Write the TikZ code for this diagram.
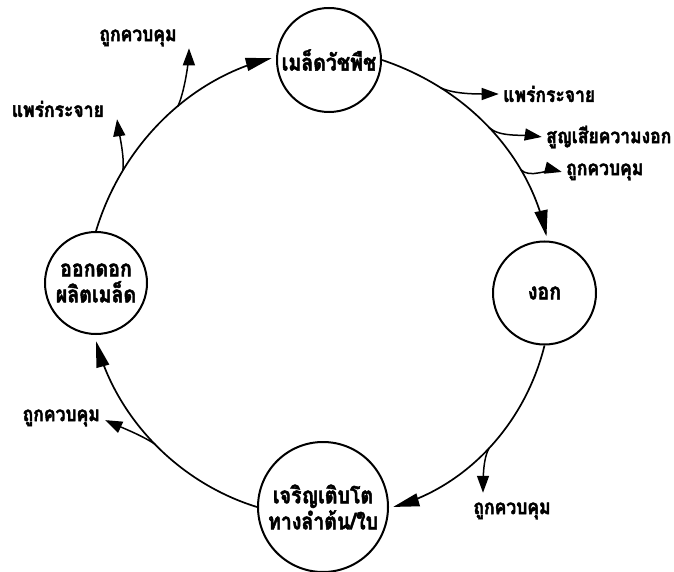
\documentclass[tikz,border=0pt]{standalone}
\usepackage{fontspec}
\newfontfamily\thaifont[Script=Thai, FakeStretch=0.85, BoldFeatures={FakeBold=2}]{Loma}
\usetikzlibrary{arrows.meta, calc, decorations.markings}

\begin{document}
\begin{tikzpicture}[x=1pt, y=-1pt,
  stage/.style={circle, draw, line width=2pt, inner sep=0pt, align=center,
    font=\thaifont\bfseries\fontsize{23}{26}\selectfont},
  cycleline/.style={line width=1.7pt, shorten >=3pt,
    postaction={decorate, decoration={markings,
      mark=at position 0.999 with {\arrow{Triangle[length=26pt,width=13pt]}}}}},
  branch/.style={line width=1.5pt, shorten >=3pt,
    postaction={decorate, decoration={markings,
      mark=at position 0.995 with {\arrow{Triangle[length=17pt,width=12pt]}}}}},
  lab/.style={inner sep=0pt, font=\thaifont\bfseries\fontsize{20.6}{22}\selectfont}]

\useasboundingbox (0,0) rectangle (674,572);

% life-cycle stages
\node[stage, minimum size=104pt] (seed)   at (329,60)    {เมล็ดวัชพืช};
\node[stage, minimum size=103pt] (germ)   at (544.5,293) {งอก};
\node[stage, minimum size=130pt] (grow)   at (323,507)   {เจริญเติบโต\\ทางลำต้น/ใบ};
\node[stage, minimum size=102pt] (flower) at (96,283)    {ออกดอก\\ผลิตเมล็ด};

% side outcomes
\node[lab, anchor=west] (r1) at (503,94)  {แพร่กระจาย};
\node[lab, anchor=west] (r2) at (546,137) {สูญเสียความงอก};
\node[lab, anchor=west] (r3) at (566,172) {ถูกควบคุม};
\node[lab]              (b1) at (512,511) {ถูกควบคุม};
\node[lab, anchor=east] (w1) at (100,418) {ถูกควบคุม};
\node[lab, anchor=east] (w2) at (104,109) {แพร่กระจาย};
\node[lab]              (t1) at (138,38)  {ถูกควบคุม};

% tips of the side arrows
\coordinate (e1) at (499,94);
\coordinate (e2) at (542,137);
\coordinate (e3) at (562,172);
\coordinate (e4) at (483,493);
\coordinate (e5) at (105,420);
\coordinate (e6) at (117,119);
\coordinate (e7) at (189,48);

% main cycle
\draw[cycleline] (seed.east) .. controls (466,88) and (529,154) .. ($(germ.north)+(2,-4)$)
  coordinate[pos=0.25] (a1) coordinate[pos=0.5] (a2) coordinate[pos=0.71] (a3);
\draw[cycleline] (germ.south) .. controls (525,424) and (467,486) .. ($(grow.east)+(4,0)$)
  coordinate[pos=0.5] (a4);
\draw[cycleline] (grow.west) .. controls (179,483) and (117,419) .. ($(flower.south)+(0,6)$)
  coordinate[pos=0.5] (a5);
\draw[cycleline] (flower.north) .. controls (122,145) and (189,79) .. ($(seed.west)+(-4,-2)$)
  coordinate[pos=0.25] (a6) coordinate[pos=0.58] (a7);

% branches off the cycle
\draw[branch] (a1) .. controls +(15,7) and +(-20,0) .. (e1);
\draw[branch] (a2) .. controls +(12,10) and +(-20,-3) .. (e2);
\draw[branch] (a3) .. controls +(10,10) and +(-15,-4) .. (e3);
\draw[branch] (a4) .. controls +(-6,10) and +(0,-15) .. (e4);
\draw[branch] (a5) .. controls +(-15,-10) and +(15,7) .. (e5);
\draw[branch] (a6) .. controls +(2,-15) and +(2,15) .. (e6);
\draw[branch] (a7) .. controls +(6,-12) and +(0,15) .. (e7);
\end{tikzpicture}
\end{document}
